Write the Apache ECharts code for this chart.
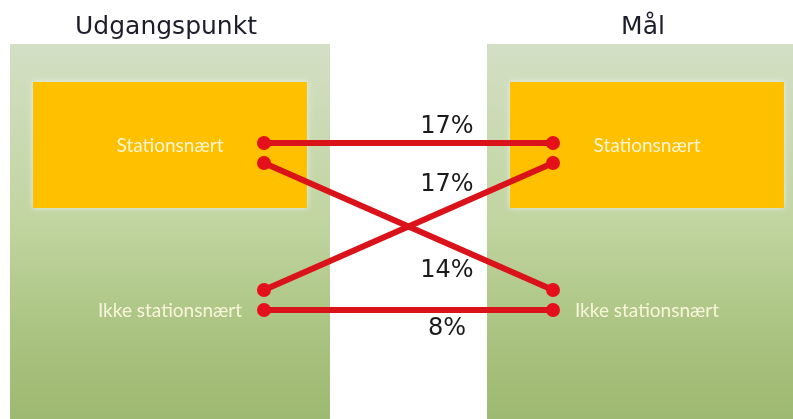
<!DOCTYPE html>
<html>
<head>
<meta charset="utf-8">
<script src="https://cdn.jsdelivr.net/npm/echarts@6/dist/echarts.min.js"></script>
<style>
  html, body { margin: 0; padding: 0; background: #ffffff; }
  #chart { width: 793px; height: 419px; }
</style>
</head>
<body>
<div id="chart"></div>
<script>
// Columns (before / goal) and the two location states
const columns = ['Udgangspunkt', 'Mål'];
const states = ['Stationsnært', 'Ikke stationsnært'];

// Flows between states: origin state, destination state, share in %
const flowFrom = [0, 1, 0, 1];
const flowTo = [0, 0, 1, 1];
const flowValues = [17, 17, 14, 8];

// Layout / style settings
const stateBoxFill = ['#ffc000', null];       // only the station-near state gets a box
const stateTextShift = [-7, 11];              // label offset from the row anchor (px)
const labelShift = [-16, -25, 27, 19];        // percentage label offset from its line (px)
const labelAlong = 0.633;                     // where along each line the label sits
const anchorOffset = 94;                      // line end distance from column centre (px)
const slotGap = 10;                           // half-distance between paired line ends (px)

const chart = echarts.init(document.getElementById('chart'), null, { renderer: 'canvas' });

const panelGradient = {
  type: 'linear', x: 0, y: 0, x2: 0, y2: 1,
  colorStops: [
    { offset: 0, color: '#d3dfc5' },
    { offset: 0.45, color: '#c0d49f' },
    { offset: 0.7, color: '#abc482' },
    { offset: 1, color: '#99b56b' }
  ]
};

const option = {
  animation: false,
  backgroundColor: '#ffffff',
  grid: { left: 170, right: 146, top: 153, bottom: 119 },
  xAxis: { type: 'value', min: 0, max: 1, show: false },
  yAxis: { type: 'value', min: 0, max: 1, inverse: true, show: false },
  series: [
    {
      // green column panels with their titles
      type: 'custom',
      clip: false,
      silent: true,
      data: columns.map((c, i) => [i]),
      renderItem: function (params, api) {
        const i = api.value(0);
        const top = api.coord([i, 0]);
        const bottom = api.coord([i, 1]);
        return {
          type: 'group',
          children: [
            {
              type: 'rect',
              shape: { x: top[0] - 160, y: top[1] - 109, width: 320, height: bottom[1] - top[1] + 260 },
              style: { fill: panelGradient }
            },
            {
              type: 'text',
              style: {
                text: columns[i],
                x: top[0] - 4, y: top[1] - 126,
                align: 'center', verticalAlign: 'middle',
                fill: '#1d1d2c',
                font: '25px "DejaVu Sans", Verdana, sans-serif'
              }
            }
          ]
        };
      }
    },
    {
      // state boxes and state labels in each column
      type: 'custom',
      clip: false,
      silent: true,
      data: (function () {
        const d = [];
        columns.forEach((c, i) => states.forEach((s, j) => d.push([i, j])));
        return d;
      })(),
      renderItem: function (params, api) {
        const i = api.value(0);
        const j = api.value(1);
        const p = api.coord([i, j]);
        const children = [];
        if (stateBoxFill[j]) {
          children.push({
            type: 'rect',
            shape: { x: p[0] - 137, y: p[1] - 71, width: 274, height: 126 },
            style: {
              fill: stateBoxFill[j],
              shadowBlur: 6,
              shadowColor: 'rgba(235,242,235,0.95)'
            }
          });
        }
        children.push({
          type: 'text',
          style: {
            text: states[j],
            x: p[0], y: p[1] + stateTextShift[j],
            align: 'center', verticalAlign: 'middle',
            fill: 'rgba(255,249,225,0.93)',
            font: '19px "Liberation Sans Narrow", Lato, sans-serif'
          }
        });
        return { type: 'group', children: children };
      }
    },
    {
      // red flow lines with end dots and percentage labels
      type: 'custom',
      clip: false,
      silent: true,
      data: flowValues.map((v, k) => [flowFrom[k], flowTo[k], v, k]),
      renderItem: function (params, api) {
        const from = api.value(0);
        const to = api.value(1);
        const val = api.value(2);
        const k = api.value(3);
        const a = api.coord([0, from]);
        const b = api.coord([1, to]);
        const x1 = a[0] + anchorOffset;
        const y1 = a[1] + (to === 0 ? -slotGap : slotGap);
        const x2 = b[0] - anchorOffset;
        const y2 = b[1] + (from === 0 ? -slotGap : slotGap);
        const lx = x1 + (x2 - x1) * labelAlong;
        const ly = y1 + (y2 - y1) * labelAlong + labelShift[k];
        const red = '#da1219';
        return {
          type: 'group',
          children: [
            {
              type: 'line',
              shape: { x1: x1, y1: y1, x2: x2, y2: y2 },
              style: { stroke: red, lineWidth: 6 }
            },
            {
              type: 'circle',
              shape: { cx: x1, cy: y1, r: 7 },
              style: { fill: '#e4101c' }
            },
            {
              type: 'circle',
              shape: { cx: x2, cy: y2, r: 7 },
              style: { fill: '#e4101c' }
            },
            {
              type: 'text',
              style: {
                text: val + '%',
                x: lx, y: ly,
                align: 'center', verticalAlign: 'middle',
                fill: '#1a1a1a',
                font: '24px "DejaVu Sans", Verdana, sans-serif'
              }
            }
          ]
        };
      }
    }
  ]
};

chart.setOption(option);
</script>
</body>
</html>
